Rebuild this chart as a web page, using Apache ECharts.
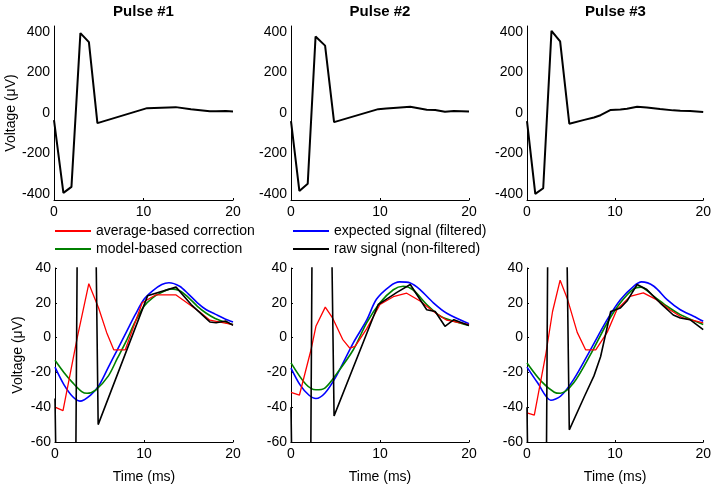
<!DOCTYPE html>
<html>
<head>
<meta charset="utf-8">
<script src="https://cdn.jsdelivr.net/npm/echarts@6/dist/echarts.min.js"></script>
<style>
  html, body { margin: 0; padding: 0; background: #fff; }
  #main { width: 714px; height: 486px; }
</style>
</head>
<body>
<div id="main"></div>
<script>
// values, [time ms, voltage uV]
var pulseTitles = ['Pulse #1', 'Pulse #2', 'Pulse #3'];
var topTicks = [-400, -200, 0, 200, 400];

// raw signal (non-filtered), shown full in top row and clipped in bottom row
var rawP1 = [[0,-35],[1.05,-395],[1.95,-365],[2.95,395],[3.9,350],[4.85,-50],[10.4,24],[13.6,29],[15.3,19],[17.4,9],[18.1,8.5],[19.2,9.5],[20,7]];
var rawP2 = [[0,-40],[0.94,-385],[1.88,-350],[2.76,378],[3.83,333],[4.84,-45],[9.8,19],[10.7,22],[11.9,26],[13.4,30.5],[15.25,16],[16.2,15],[17.3,6.5],[18.3,10.3],[20,7]];
var rawP3 = [[0,-40],[0.94,-400],[1.84,-372],[2.78,406],[3.76,354],[4.8,-53],[6.5,-34],[7.6,-22],[8.35,-11],[9.5,15],[10.6,17],[11.35,21],[12.5,30.5],[13.6,27.6],[15.1,20],[16.6,13],[17.4,11.3],[18.5,10.3],[20,4.6]];

// average-based correction
var avgP1 = [[0,-40],[0.9,-42],[2.5,0],[3.8,31],[4.9,17],[5.8,3],[6.6,-7],[7.9,-7],[9.8,20],[11.3,24.5],[13.6,24.5],[15.1,19],[16.2,15],[17.4,10],[20,7.5]];
var avgP2 = [[0,-31.5],[0.95,-33],[2.25,-7],[2.8,6.5],[3.85,17.5],[4.7,11],[5.8,-1],[6.6,-6],[7.2,-5],[8.5,5],[10,19],[11.5,23.5],[13,25.5],[14.5,21],[16,15],[17.5,10],[20,7.5]];
var avgP3 = [[0,-43.3],[0.83,-44.6],[2.15,-9],[2.9,15],[3.76,33],[4.6,22],[5.7,3],[6.65,-7],[7.8,-7],[9.1,3],[10.2,16],[11.7,23.7],[13.2,25.7],[14.7,21.8],[16.2,16],[17.7,11.3],[20,8.4]];

// model-based correction
var modelP1 = [[0,-13],[1,-20],[2,-26],[3,-31],[3.6,-32],[4.6,-30],[6,-22],[7,-12],[8,-2],[9,9],[10,18],[11,23],[12,26],[13,28],[14,27],[15,23],[16,18],[17,14],[18,11],[19,9],[20,7.5]];
var modelP2 = [[0,-14.5],[1.7,-27],[2.8,-30],[3.8,-29],[5.1,-21],[7,-7],[8.5,8.5],[10,20],[11.5,27.5],[12.6,29.5],[13.7,27.5],[15.25,19],[16.8,12.3],[18.3,9.4],[20,7]];
var modelP3 = [[0,-14.6],[1.6,-25],[3.1,-31.4],[3.8,-32],[5.3,-26],[7.2,-9.8],[9.1,8.4],[10.6,20],[12.1,28],[12.9,29],[14.4,23.7],[15.9,18],[17.4,13.2],[20,7.5]];

// expected signal (filtered)
var expP1 = [[0,-17],[1,-27],[2,-34],[2.8,-36.5],[4,-33],[5,-27],[6,-17],[7,-7],[8,3],[9,13],[10,22],[11,27],[12,30.5],[12.8,31.5],[14,29.5],[15,25],[16,20],[17,16],[18,13.5],[19,11],[20,9]];
var expP2 = [[0,-17.5],[1,-27],[2,-33],[2.8,-35],[3.8,-32],[5.1,-22],[7,-3],[8.5,10],[9.6,22],[11.1,29.5],[12.2,32],[13.4,31.4],[14.5,27.6],[16,20],[17.5,14],[20,8]];
var expP3 = [[0,-17],[1.2,-26],[2.7,-36],[3.8,-33.7],[5.3,-24],[7.2,-7],[9.1,10.3],[10.6,21.8],[12.1,29.5],[13,32],[14.4,29.5],[15.9,21.8],[17.4,16],[18.9,12.3],[20,9.4]];

var raws = [rawP1, rawP2, rawP3];
var avgs = [avgP1, avgP2, avgP3];
var models = [modelP1, modelP2, modelP3];
var exps = [expP1, expP2, expP3];

var FONT = 'Liberation Sans, Arial, sans-serif';
var lefts = [54, 291, 527];
var widths = [179, 178, 177];

var chart = echarts.init(document.getElementById('main'));

var grids = [], xAxes = [], yAxes = [], titles = [], series = [];

function axisBase(ticks) {
  return {
    axisLine: { show: true, onZero: false, lineStyle: { color: '#000', width: 1 } },
    axisTick: { show: ticks, inside: true, length: 2, lineStyle: { color: '#000' } },
    splitLine: { show: false },
    axisLabel: { color: '#000', fontSize: 14, fontFamily: FONT, margin: 5 }
  };
}

function lineSeries(name, color, width, grid, data, smooth) {
  return {
    type: 'line', name: name, xAxisIndex: grid, yAxisIndex: grid,
    data: data, symbol: 'none', smooth: smooth || false, clip: true,
    itemStyle: { color: color },
    lineStyle: { color: color, width: width }
  };
}

for (var i = 0; i < 3; i++) {
  // top row
  grids.push({ left: lefts[i], top: 26, width: widths[i], height: 174 });
  // bottom row
  grids.push({ left: lefts[i] + (i == 0 ? 1 : 0), top: 268, width: widths[i] - (i == 0 ? 1 : 0), height: 174 });

  titles.push({
    text: pulseTitles[i],
    left: lefts[i] + widths[i] / 2,
    top: 4,
    padding: 0,
    textAlign: 'center',
    textStyle: { fontSize: 15, fontWeight: 'bold', color: '#000', fontFamily: FONT }
  });

  var gTop = i * 2, gBot = i * 2 + 1;

  var xt = axisBase(true);
  Object.assign(xt, { type: 'value', gridIndex: gTop, min: 0, max: 20, interval: 10 });
  xAxes.push(xt);
  var xb = axisBase(true);
  Object.assign(xb, {
    type: 'value', gridIndex: gBot, min: 0, max: 20, interval: 10,
    name: 'Time (ms)', nameLocation: 'middle', nameGap: 28,
    nameTextStyle: { fontSize: 14, color: '#000', fontFamily: FONT }
  });
  xAxes.push(xb);

  var yt = axisBase(false);
  Object.assign(yt, { type: 'value', gridIndex: gTop, min: -430, max: 430, interval: 10 });
  yt.axisLabel.formatter = function (v) { return topTicks.indexOf(v) >= 0 ? String(v) : ''; };
  yt.axisLabel.margin = 4;
  var yb = axisBase(true);
  Object.assign(yb, { type: 'value', gridIndex: gBot, min: -60, max: 40, interval: 20 });
  yb.axisLabel.margin = 4;
  if (i == 0) {
    Object.assign(yt, {
      name: 'Voltage (μV)', nameLocation: 'middle', nameGap: 35, nameRotate: 90,
      nameTextStyle: { fontSize: 14, color: '#000', fontFamily: FONT }
    });
    Object.assign(yb, {
      name: 'Voltage (μV)', nameLocation: 'middle', nameGap: 30, nameRotate: 90,
      nameTextStyle: { fontSize: 14, color: '#000', fontFamily: FONT }
    });
  }
  yAxes.push(yt);
  yAxes.push(yb);

  // top: raw signal only
  series.push(lineSeries('raw signal (non-filtered)', '#000', 2, gTop, raws[i]));
  // bottom: all four
  series.push(lineSeries('expected signal (filtered)', '#0000ff', 1.6, gBot, exps[i], 0.3));
  series.push(lineSeries('model-based correction', '#008000', 1.6, gBot, models[i], 0.3));
  series.push(lineSeries('average-based correction', '#ff0000', 1.3, gBot, avgs[i]));
  series.push(lineSeries('raw signal (non-filtered)', '#000', 1.6, gBot, raws[i]));
}

var legendText = { fontSize: 14, color: '#000', fontFamily: FONT };
var option = {
  animation: false,
  backgroundColor: '#fff',
  title: titles,
  legend: [
    {
      left: 50, top: 219, orient: 'vertical', icon: 'rect', itemWidth: 36, itemHeight: 2,
      itemGap: 4, selectedMode: false, textStyle: legendText,
      data: ['average-based correction', 'model-based correction']
    },
    {
      left: 288, top: 219, orient: 'vertical', icon: 'rect', itemWidth: 36, itemHeight: 2,
      itemGap: 4, selectedMode: false, textStyle: legendText,
      data: ['expected signal (filtered)', 'raw signal (non-filtered)']
    }
  ],
  grid: grids,
  xAxis: xAxes,
  yAxis: yAxes,
  series: series
};

chart.setOption(option);
</script>
</body>
</html>
